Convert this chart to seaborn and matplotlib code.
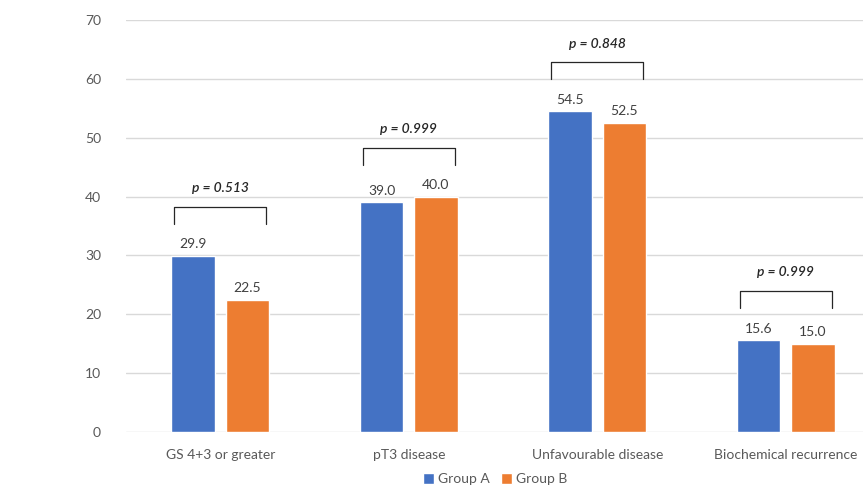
import numpy as np
import pandas as pd
import matplotlib
matplotlib.use('Agg')
import matplotlib.pyplot as plt
import seaborn as sns

# data
categories = ['GS 4+3 or greater', 'pT3 disease', 'Unfavourable disease', 'Biochemical recurrence']
group_a = [29.9, 39.0, 54.5, 15.6]
group_b = [22.5, 40.0, 52.5, 15.0]
p_values = ['0.513', '0.999', '0.848', '0.999']

df = pd.DataFrame({
    'Category': categories * 2,
    'Value': group_a + group_b,
    'Group': ['Group A'] * 4 + ['Group B'] * 4,
})

sns.set_style('white')
plt.rcParams['font.family'] = ['Lato', 'DejaVu Sans']

fig = plt.figure(figsize=(8.63, 4.86), dpi=100)
ax = fig.add_axes([126 / 863, 1 - 432 / 486, (880 - 126) / 863, 412 / 486])

sns.barplot(data=df, x='Category', y='Value', hue='Group', ax=ax,
            palette=['#4472C4', '#ED7D31'], width=0.575, gap=0.2,
            saturation=1, legend=True)

ax.set_ylim(0, 70)
ax.set_xlim(-0.5, 3.5)
ax.set_yticks(range(0, 71, 10))
ax.yaxis.grid(True, color='#D9D9D9', linewidth=1)
ax.set_axisbelow(True)
for s in ['top', 'right', 'left', 'bottom']:
    ax.spines[s].set_visible(False)
ax.tick_params(axis='both', length=0, colors='#595959', labelsize=10)
ax.tick_params(axis='x', pad=12)
ax.tick_params(axis='y', pad=18)
ax.set_xlabel('')
ax.set_ylabel('')

for cont in ax.containers:
    ax.bar_label(cont, fmt='%.1f', padding=4, color='#404040', fontsize=10)

# significance brackets
for i, p in enumerate(p_values):
    top = max(group_a[i], group_b[i]) + 8.3
    x0, x1 = i - 0.245, i + 0.245
    ax.plot([x0, x0, x1, x1], [top - 2.9, top, top, top - 2.9],
            color='#262626', linewidth=0.9, clip_on=False)
    ax.text(i, top + 3.2, 'p = ' + p, ha='center', va='center',
            fontsize=10, fontstyle='italic', fontweight='semibold', color='#262626')

handles, labels = ax.get_legend_handles_labels()
ax.get_legend().remove()
fig.legend(handles, labels, loc='center', bbox_to_anchor=(495 / 863, 1 - 479 / 486),
           ncol=2, frameon=False, fontsize=10, handlelength=0.8, handleheight=0.8,
           handletextpad=0.3, columnspacing=0.8, labelcolor='#595959')

fig.savefig('out.png', dpi=100)
